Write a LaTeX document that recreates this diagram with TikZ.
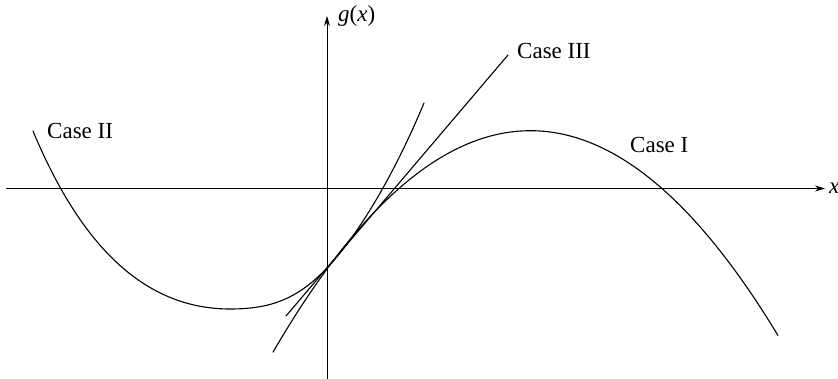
\documentclass[tikz,border=0pt]{standalone}
\usepackage{fontspec}
\setmainfont{Liberation Serif}
\usetikzlibrary{arrows.meta}
\begin{document}
\begin{tikzpicture}[x=1pt,y=-1pt,
  curve/.style={line width=1.1pt, line join=round, line cap=round},
  axis/.style={line width=0.9pt},
  lbl/.style={font=\fontsize{23}{26}\selectfont, inner sep=0pt}]
\useasboundingbox (0,0) rectangle (838,379);
% axes
\coordinate (xl) at (6,188.5);
\coordinate (xr) at (825,188.5);
\coordinate (yb) at (327,379);
\coordinate (yt) at (327,16);
\draw[axis,-{Stealth[length=10pt,width=6pt]}] (xl) -- (xr);
\draw[axis,-{Stealth[length=10pt,width=6pt]}] (yb) -- (yt);
\node[lbl, anchor=base west] (xlab) at (829,194) {\textit{x}};
\node[lbl, anchor=base west] (glab) at (338,22) {\textit{g}(\textit{x})};
% Case III: straight line
\coordinate (l1) at (286,316);
\coordinate (l2) at (508,55);
\draw[curve] (l1) -- (l2);
% Case I: concave curve
\draw[curve] plot[domain=-54:451, samples=150]
  ({327+\x},{269-(1.3596*\x-0.003349*\x*\x)});
% Case II: curve with minimum on the left
\coordinate (a0) at (33,131);
\coordinate (am) at (230,309);
\coordinate (aq) at (327,268);
\coordinate (ae) at (424,103);
\draw[curve] (a0) .. controls (78,239) and (140,309) .. (am)
  .. controls (270,309) and (297,299.5) .. (aq)
  .. controls (352,241.75) and (389,187) .. (ae);
% labels
\node[lbl, anchor=base west] (c3) at (517,59) {Case III};
\node[lbl, anchor=base west] (c2) at (47,139) {Case II};
\node[lbl, anchor=base west] (c1) at (630,153) {Case I};
\end{tikzpicture}
\end{document}
